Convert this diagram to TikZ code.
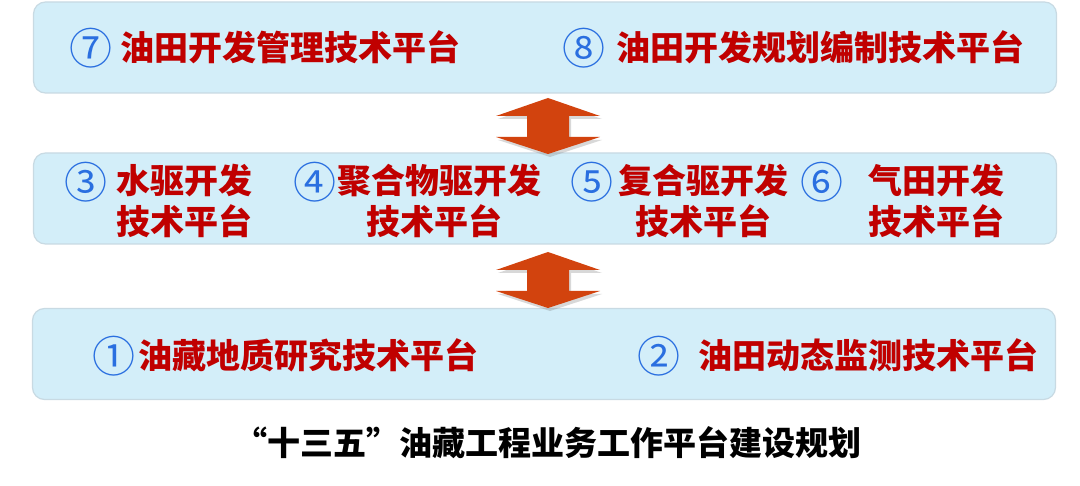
\documentclass[tikz,border=0pt]{standalone}
\usepackage{fontspec}
\usetikzlibrary{shadows}
\newfontfamily\cjk{Noto Sans CJK SC}
\definecolor{boxfill}{HTML}{D3EEF9}
\definecolor{boxline}{HTML}{C8DAE3}
\definecolor{txtred}{HTML}{C00000}
\definecolor{numblue}{HTML}{2A6FE0}
\definecolor{arrowred}{HTML}{D2430E}

\begin{document}
\begin{tikzpicture}[%
x=1pt, y=-1pt,
box/.style={draw=boxline, line width=1.2pt, fill=boxfill, rounded corners=12pt, minimum width=1023pt, minimum height=91pt, inner sep=0pt},
num/.style={text=numblue, font=\cjk\fontsize{43}{43}\selectfont, inner sep=0pt},
lbl/.style={text=txtred, anchor=west, font=\cjk\bfseries\fontsize{34}{34}\selectfont, inner sep=0pt},
dblarrow/.style={fill=arrowred, drop shadow={shadow xshift=2pt, shadow yshift=-3pt, opacity=0.3}},
]
\useasboundingbox (0,0) rectangle (1080,486);
\fill [white] (0,0) rectangle (1080,486);
%% boxes;
\node [box] (top) at (545,47.5) {};
\node [box] (mid) at (545,198.5) {};
\node [box] (bot) at (544,354) {};
%% arrows;
\foreach \dy in {0,154} {
\fill [dblarrow] (548,98+\dy) -- (600,116+\dy) -- (569,116+\dy) -- (569,137+\dy) -- (600,137+\dy) -- (548,154+\dy) -- (496,137+\dy) -- (527,137+\dy) -- (527,116+\dy) -- (496,116+\dy) -- cycle;
}
%% top row;
\node [num] (n7) at (91,48) {⑦};
\node [lbl] (t7) at (120,47) {油田开发管理技术平台};
\node [num] (n8) at (584,48) {⑧};
\node [lbl] (t8) at (616,47) {油田开发规划编制技术平台};
%% middle row;
\node [num] (n3) at (86,182) {③};
\node [lbl] (t3a) at (116,181) {水驱开发};
\node [lbl] (t3b) at (116,221) {技术平台};
\node [num] (n4) at (315,182) {④};
\node [lbl] (t4a) at (337,181) {聚合物驱开发};
\node [lbl] (t4b) at (366,221) {技术平台};
\node [num] (n5) at (592,182) {⑤};
\node [lbl] (t5a) at (618,181) {复合驱开发};
\node [lbl] (t5b) at (635,221) {技术平台};
\node [num] (n6) at (822,182) {⑥};
\node [lbl] (t6a) at (868,181) {气田开发};
\node [lbl] (t6b) at (868,221) {技术平台};
%% bottom row;
\node [num] (n1) at (114,356) {①};
\node [lbl] (t1) at (138,355) {油藏地质研究技术平台};
\node [num] (n2) at (659,356) {②};
\node [lbl] (t2) at (698,355) {油田动态监测技术平台};
%% caption;
\node [font=\cjk\bfseries\fontsize{33}{33}\selectfont, inner sep=0pt] (caption) at (548,443) {“十三五”油藏工程业务工作平台建设规划};
\end{tikzpicture}
\end{document}
